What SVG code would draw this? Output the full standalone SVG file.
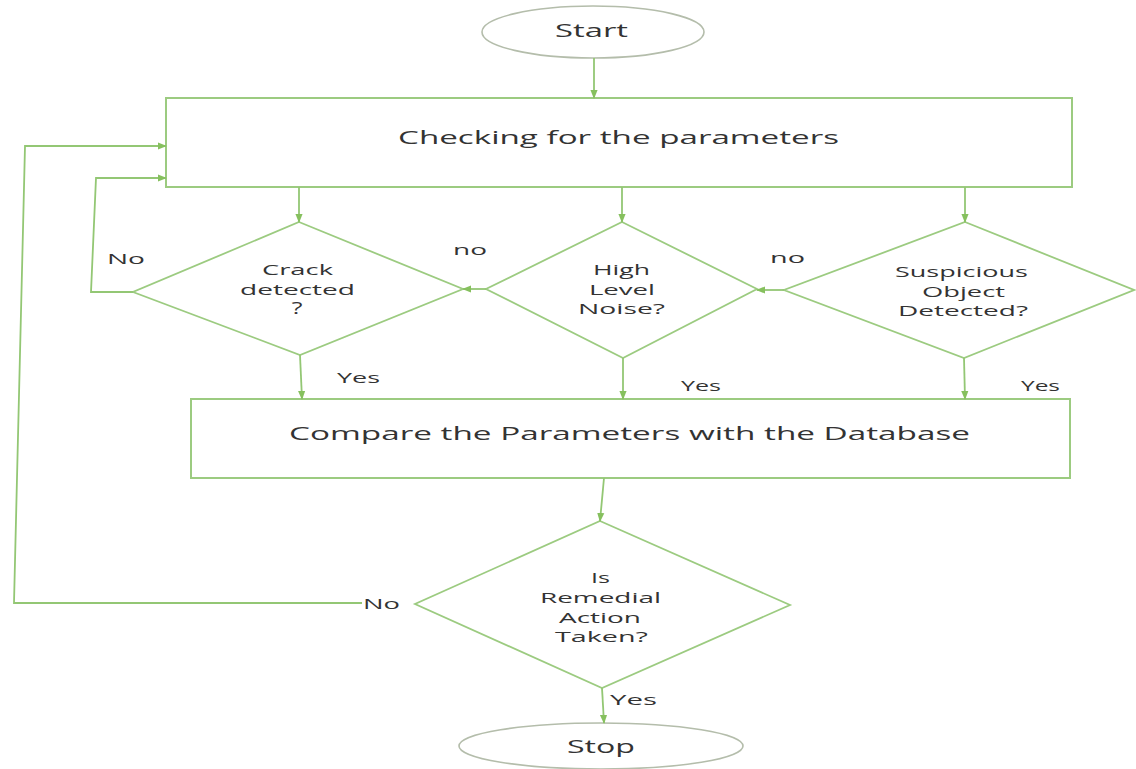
<svg xmlns="http://www.w3.org/2000/svg" width="1136" height="769" viewBox="0 0 1136 769">
<defs>
<marker id="arr" viewBox="0 0 10 10" refX="9" refY="5" markerWidth="9" markerHeight="9" markerUnits="userSpaceOnUse" orient="auto">
<path d="M0,1 L10,5 L0,9 z" fill="#86c05e"/>
</marker>
<style>
.box{fill:#ffffff;stroke:#9ccb80;stroke-width:2}
.term{fill:#ffffff;stroke:#b4bdab;stroke-width:1.6}
.dia{fill:#ffffff;stroke:#9ccb80;stroke-width:1.8}
.conn{fill:none;stroke:#93c774;stroke-width:1.8;marker-end:url(#arr)}
text{font-family:"Open Sans","DejaVu Sans",sans-serif;fill:#333333;text-anchor:middle}
.big{font-size:18px}
.mid{font-size:15px}
.lbl{font-size:15px}
</style>
</defs>
<rect width="1136" height="769" fill="#ffffff"/>

<g id="start">
<ellipse class="term" cx="593" cy="32" rx="111" ry="26"/>
<text class="big" x="591.5" y="37" textLength="73" lengthAdjust="spacingAndGlyphs">Start</text>
</g>

<g id="checking">
<rect class="box" x="166" y="98" width="906" height="89"/>
<text class="big" x="618.5" y="144" textLength="441" lengthAdjust="spacingAndGlyphs">Checking for the parameters</text>
</g>

<g id="crack">
<polygon class="dia" points="299,222 463,289 300,355 133,292"/>
<text class="mid" x="297.5" y="275" textLength="71" lengthAdjust="spacingAndGlyphs">Crack</text>
<text class="mid" x="297.5" y="295" textLength="115" lengthAdjust="spacingAndGlyphs">detected</text>
<text class="mid" x="297" y="314" style="font-size:16px" textLength="11" lengthAdjust="spacingAndGlyphs">?</text>
</g>

<g id="noise">
<polygon class="dia" points="622,222 757,289 623,358 486,289"/>
<text class="mid" x="621.5" y="275" textLength="57" lengthAdjust="spacingAndGlyphs">High</text>
<text class="mid" x="622" y="295" textLength="66" lengthAdjust="spacingAndGlyphs">Level</text>
<text class="mid" x="621.5" y="314" textLength="87" lengthAdjust="spacingAndGlyphs">Noise?</text>
</g>

<g id="suspicious">
<polygon class="dia" points="965,222 1134,290 964,358 784,290"/>
<text class="mid" x="961.5" y="277" textLength="133" lengthAdjust="spacingAndGlyphs">Suspicious</text>
<text class="mid" x="963.5" y="297" textLength="83" lengthAdjust="spacingAndGlyphs">Object</text>
<text class="mid" x="963" y="316" textLength="130" lengthAdjust="spacingAndGlyphs">Detected?</text>
</g>

<g id="compare">
<rect class="box" x="191" y="399" width="879" height="79"/>
<text class="big" x="629.5" y="440" textLength="681" lengthAdjust="spacingAndGlyphs">Compare the Parameters with the Database</text>
</g>

<g id="remedial">
<polygon class="dia" points="600,521 790,605 602,688 415,604"/>
<text class="mid" x="600.5" y="583" textLength="19" lengthAdjust="spacingAndGlyphs">Is</text>
<text class="mid" x="600.5" y="603" textLength="121" lengthAdjust="spacingAndGlyphs">Remedial</text>
<text class="mid" x="600" y="623" textLength="82" lengthAdjust="spacingAndGlyphs">Action</text>
<text class="mid" x="601.5" y="642" textLength="93" lengthAdjust="spacingAndGlyphs">Taken?</text>
</g>

<g id="stop">
<ellipse class="term" cx="601" cy="746" rx="142" ry="23"/>
<text class="big" x="601" y="753" textLength="68" lengthAdjust="spacingAndGlyphs">Stop</text>
</g>

<g id="connectors">
<path class="conn" d="M594,58 V98"/>
<path class="conn" d="M299,187 V222"/>
<path class="conn" d="M622,187 V222"/>
<path class="conn" d="M965,187 V222"/>
<path class="conn" d="M784,290 H757"/>
<path class="conn" d="M486,289 H463"/>
<path class="conn" d="M133,292 H91 L96,178 H166"/>
<path class="conn" d="M300,355 L302,399"/>
<path class="conn" d="M623,358 V399"/>
<path class="conn" d="M964,358 L965,399"/>
<path class="conn" d="M604,478 L600,521"/>
<path class="conn" d="M362,603 H14 L25,146 H166"/>
<path class="conn" d="M602,688 L604,723"/>
</g>

<g id="labels">
<text class="lbl" x="126" y="264" textLength="38" lengthAdjust="spacingAndGlyphs">No</text>
<text class="lbl" x="470" y="255" textLength="34" lengthAdjust="spacingAndGlyphs">no</text>
<text class="lbl" x="787.5" y="263" textLength="35" lengthAdjust="spacingAndGlyphs">no</text>
<text class="lbl" x="358.5" y="383" textLength="43" lengthAdjust="spacingAndGlyphs">Yes</text>
<text class="lbl" x="701" y="391" textLength="40" lengthAdjust="spacingAndGlyphs">Yes</text>
<text class="lbl" x="1040.5" y="391" textLength="39" lengthAdjust="spacingAndGlyphs">Yes</text>
<text class="lbl" x="381.5" y="609" textLength="37" lengthAdjust="spacingAndGlyphs">No</text>
<text class="lbl" x="633.5" y="705" textLength="47" lengthAdjust="spacingAndGlyphs">Yes</text>
</g>
</svg>
